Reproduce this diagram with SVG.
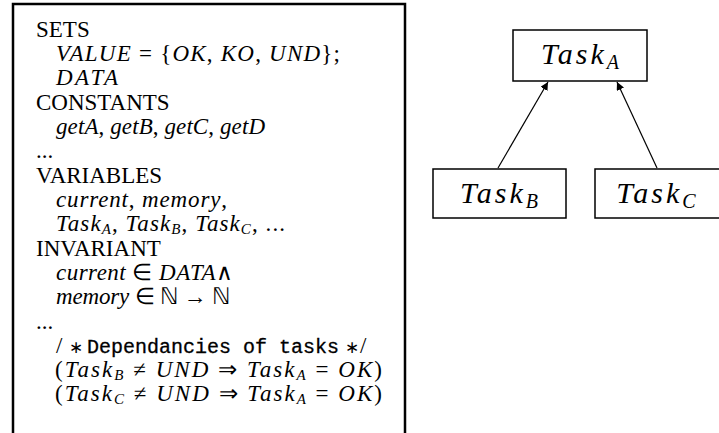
<svg xmlns="http://www.w3.org/2000/svg" width="719" height="433" viewBox="0 0 719 433">
<defs>
<style>
.t{font-family:"Liberation Serif","Times New Roman",serif;font-size:23px;fill:#000}
.i{font-style:italic}
.m{font-family:"Liberation Mono","Courier New",monospace;font-size:20px;stroke:#000;stroke-width:0.3}
.s{font-size:15px}
.ast{font-size:17px}
.box{fill:#fff;stroke:#000;stroke-width:1.5}
.nl{font-family:"Liberation Serif","Times New Roman",serif;font-style:italic;font-size:30px;letter-spacing:3px;fill:#000}
.ns{font-size:20px;letter-spacing:0}
.edge{stroke:#000;stroke-width:1.2;fill:none;marker-end:url(#ah)}
</style>
<marker id="ah" viewBox="0 0 10 10" refX="10" refY="5" markerWidth="8" markerHeight="8" markerUnits="userSpaceOnUse" orient="auto">
<path d="M0,0 L10,5 L0,10 z" fill="#000"/>
</marker>
</defs>
<rect width="719" height="433" fill="#fff"/>
<g id="machine">
<path d="M13,440 V4 H405 V440" fill="none" stroke="#000" stroke-width="2.5"/>
<text class="t" x="36" y="37">SETS</text>
<text class="t" x="56" y="61" textLength="284"><tspan class="i">VALUE</tspan> = {<tspan class="i">OK</tspan>, <tspan class="i">KO</tspan>, <tspan class="i">UND</tspan>};</text>
<text class="t i" x="56" y="85" textLength="62">DATA</text>
<text class="t" x="36" y="110">CONSTANTS</text>
<text class="t" x="56" y="134" textLength="209"><tspan class="i">getA</tspan>, <tspan class="i">getB</tspan>, <tspan class="i">getC</tspan>, <tspan class="i">getD</tspan></text>
<text class="t" x="36" y="158">...</text>
<text class="t" x="36" y="183">VARIABLES</text>
<text class="t" x="56" y="207" textLength="171"><tspan class="i">current</tspan>, <tspan class="i">memory</tspan>,</text>
<text class="t" x="56" y="231" textLength="229"><tspan class="i">Task</tspan><tspan class="i s" dy="3">A</tspan><tspan dy="-3">, </tspan><tspan class="i">Task</tspan><tspan class="i s" dy="3">B</tspan><tspan dy="-3">, </tspan><tspan class="i">Task</tspan><tspan class="i s" dy="3">C</tspan><tspan dy="-3">, ...</tspan></text>
<text class="t" x="36" y="256">INVARIANT</text>
<text class="t" x="56" y="280" textLength="177"><tspan class="i">current</tspan> ∈ <tspan class="i">DATA</tspan>∧</text>
<text class="t" x="56" y="304" textLength="174"><tspan class="i">memory</tspan> ∈ ℕ → ℕ</text>
<text class="t" x="36" y="329">...</text>
<text class="t" x="56" y="353">/<tspan class="ast" x="69">∗</tspan><tspan class="m" x="87" textLength="252">Dependancies of tasks</tspan><tspan class="ast" x="345">∗</tspan><tspan x="360">/</tspan></text>
<text class="t" x="55" y="377" textLength="327">(<tspan class="i">Task</tspan><tspan class="i s" dy="3">B</tspan><tspan dy="-3"> ≠ </tspan><tspan class="i">UND</tspan> ⇒ <tspan class="i">Task</tspan><tspan class="i s" dy="3">A</tspan><tspan dy="-3"> = </tspan><tspan class="i">OK</tspan>)</text>
<text class="t" x="55" y="401" textLength="327">(<tspan class="i">Task</tspan><tspan class="i s" dy="3">C</tspan><tspan dy="-3"> ≠ </tspan><tspan class="i">UND</tspan> ⇒ <tspan class="i">Task</tspan><tspan class="i s" dy="3">A</tspan><tspan dy="-3"> = </tspan><tspan class="i">OK</tspan>)</text>
</g>
<g id="connectors">
<line class="edge" x1="498" y1="168" x2="548" y2="82"/>
<line class="edge" x1="657" y1="168" x2="617" y2="82"/>
</g>
<g id="taskA">
<rect class="box" x="513" y="30" width="134" height="51"/>
<text class="nl" x="580" y="64" text-anchor="middle">Task<tspan class="ns" dy="5">A</tspan></text>
</g>
<g id="taskB">
<rect class="box" x="433" y="169" width="133" height="49"/>
<text class="nl" x="499" y="203" text-anchor="middle">Task<tspan class="ns" dy="5">B</tspan></text>
</g>
<g id="taskC">
<rect class="box" x="595" y="169" width="140" height="49"/>
<text class="nl" x="656" y="203" text-anchor="middle">Task<tspan class="ns" dy="5">C</tspan></text>
</g>
</svg>
